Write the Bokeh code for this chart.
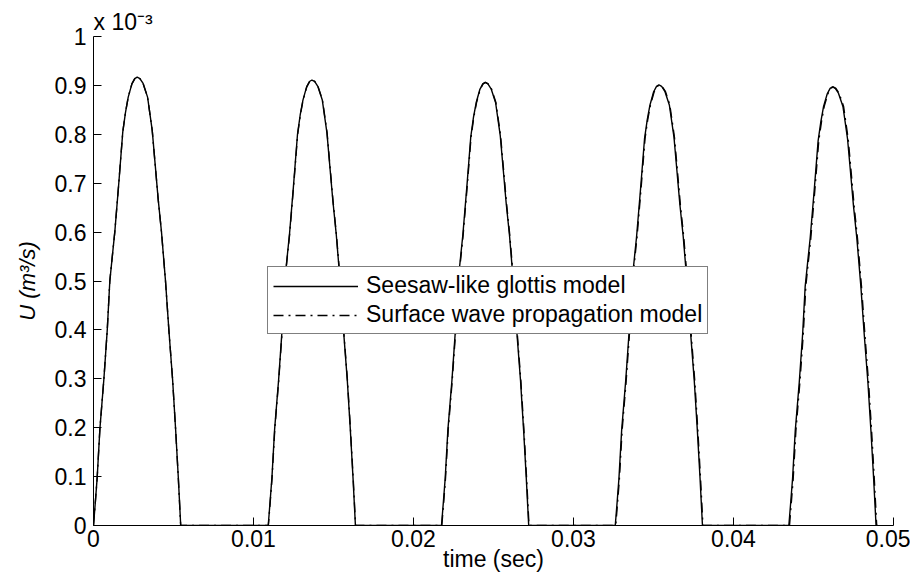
from bokeh.plotting import figure
from bokeh.models import (Legend, LegendItem, Title, FixedTicker,
                          CustomJSTickFormatter, Range1d)
from bokeh.embed import file_html
from bokeh.resources import INLINE

# ---------------- data (U in units of 1e-3 m^3/s) ----------------
# relative time within one open phase (s)
t_rel = [0, 0.00012, 0.00023, 0.00040, 0.00065, 0.00086, 0.00102, 0.00118,
         0.00133, 0.00158, 0.00183, 0.00200, 0.00217, 0.00240, 0.00258,
         0.00273, 0.00290, 0.00310, 0.00338, 0.00367, 0.00385, 0.00404,
         0.00425, 0.00450, 0.00471, 0.00494, 0.00513, 0.00530, 0.00545]

pulse1 = [0, 0.050, 0.098, 0.198, 0.300, 0.400, 0.500, 0.552, 0.600, 0.700,
          0.805, 0.845, 0.876, 0.903, 0.914, 0.917, 0.914, 0.904, 0.876,
          0.808, 0.740, 0.668, 0.600, 0.500, 0.400, 0.300, 0.198, 0.098, 0]
pulse2 = [0, 0.050, 0.097, 0.197, 0.298, 0.397, 0.497, 0.548, 0.596, 0.695,
          0.800, 0.840, 0.870, 0.897, 0.908, 0.911, 0.908, 0.898, 0.870,
          0.803, 0.735, 0.664, 0.596, 0.497, 0.397, 0.298, 0.197, 0.097, 0]
pulse3 = [0, 0.049, 0.096, 0.196, 0.296, 0.395, 0.494, 0.545, 0.593, 0.691,
          0.795, 0.835, 0.865, 0.892, 0.903, 0.906, 0.903, 0.893, 0.865,
          0.798, 0.731, 0.660, 0.593, 0.494, 0.395, 0.296, 0.196, 0.096, 0]
pulse4 = [0, 0.049, 0.096, 0.195, 0.295, 0.393, 0.491, 0.542, 0.590, 0.688,
          0.791, 0.830, 0.860, 0.887, 0.898, 0.901, 0.898, 0.888, 0.860,
          0.794, 0.727, 0.656, 0.590, 0.491, 0.393, 0.295, 0.195, 0.096, 0]
pulse5 = [0, 0.049, 0.095, 0.194, 0.293, 0.391, 0.489, 0.540, 0.587, 0.684,
          0.787, 0.826, 0.857, 0.883, 0.894, 0.897, 0.894, 0.884, 0.857,
          0.790, 0.724, 0.653, 0.587, 0.489, 0.391, 0.293, 0.194, 0.095, 0]
pulses = [pulse1, pulse2, pulse3, pulse4, pulse5]

seesaw_starts = [0.0, 0.01092, 0.02175, 0.03261, 0.04346]
surface_starts = [0.0, 0.01093, 0.02177, 0.03264, 0.04350]
t_end = 0.0490

x_ticks = [0, 0.01, 0.02, 0.03, 0.04, 0.05]
y_ticks = [0, 0.1, 0.2, 0.3, 0.4, 0.5, 0.6, 0.7, 0.8, 0.9, 1]

series_names = ["Seesaw-like glottis model", "Surface wave propagation model"]


def build(starts):
    ts, us = [], []
    for s, p in zip(starts, pulses):
        ts += [s + tr for tr in t_rel]
        us += list(p)
    ts.append(t_end)
    us.append(0)
    return ts, us


t1, u1 = build(seesaw_starts)
t2, u2 = build(surface_starts)

FONT = "Liberation Sans"
FS = "23px"

p = figure(frame_width=800, frame_height=489, output_backend="svg",
           toolbar_location=None, min_border_left=93, min_border_top=36,
           min_border_right=17, min_border_bottom=5,
           x_range=Range1d(0, 0.05), y_range=Range1d(0, 1))
p.outline_line_color = None
p.xgrid.visible = False
p.ygrid.visible = False

r1 = p.line(t1, u1, line_color="black", line_width=1.4)
r2 = p.line(t2, u2, line_color="black", line_width=1.4, line_dash="10 5 2 5")

fmt = CustomJSTickFormatter(code="return String(+tick.toFixed(4));")
for ax, ticks in ((p.xaxis[0], x_ticks), (p.yaxis[0], y_ticks)):
    ax.ticker = FixedTicker(ticks=ticks)
    ax.formatter = fmt
    ax.major_tick_in = 8
    ax.major_tick_out = 0
    ax.minor_tick_in = 0
    ax.minor_tick_out = 0
    ax.axis_line_color = "black"
    ax.major_tick_line_color = "black"
    ax.major_label_text_font = FONT
    ax.major_label_text_font_size = FS
    ax.major_label_text_color = "black"
    ax.axis_label_text_font = FONT
    ax.axis_label_text_font_size = FS
    ax.axis_label_text_color = "black"
    ax.axis_label_text_font_style = "normal"

p.xaxis[0].axis_label = "time (sec)"
p.xaxis[0].major_label_standoff = 4
p.xaxis[0].axis_label_standoff = -4
p.yaxis[0].axis_label = "U (m³/s)"
p.yaxis[0].axis_label_text_font_style = "italic"
p.yaxis[0].axis_label_text_font_size = "22px"
p.yaxis[0].major_label_standoff = 7
p.yaxis[0].axis_label_standoff = 12

legend = Legend(items=[LegendItem(label=series_names[0], renderers=[r1]),
                       LegendItem(label=series_names[1], renderers=[r2])],
                location=(174, 191))
legend.border_line_color = "black"
legend.border_line_width = 1
legend.background_fill_alpha = 1
legend.label_text_font = FONT
legend.label_text_font_size = FS
legend.label_text_color = "black"
legend.label_height = 24
legend.glyph_height = 24
legend.glyph_width = 85
legend.label_standoff = 8
legend.spacing = 2
legend.padding = 5
legend.margin = 0
p.add_layout(legend)

mult = Title(text="x 10⁻³", align="left", text_font=FONT, text_font_size=FS,
             text_font_style="normal", text_color="black", standoff=4, offset=0)
p.add_layout(mult, "above")

open("out.html", "w").write(file_html(p, INLINE))
